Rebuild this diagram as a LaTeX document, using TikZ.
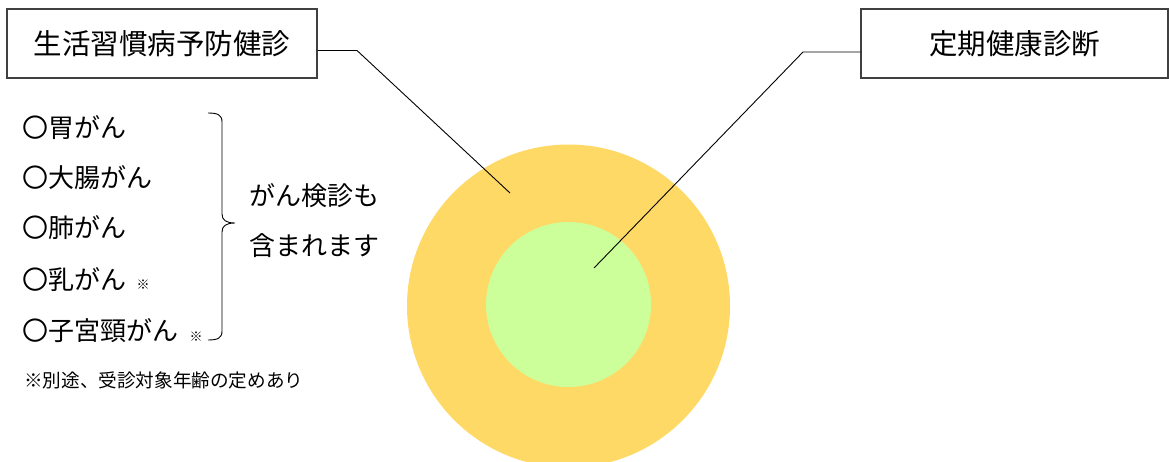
\documentclass[tikz,border=0pt]{standalone}
\usepackage{fontspec}
\newfontfamily\jp{Noto Sans CJK JP}
\definecolor{outerc}{HTML}{FFD966}
\definecolor{innerc}{HTML}{CCFF99}
\tikzset{
  labelbox/.style={draw=black!75, line width=1.1pt, inner sep=0pt, font=\jp\fontsize{28.5}{34}\selectfont},
  leader/.style={draw=black, line width=0.9pt},
  listtext/.style={anchor=base west, inner sep=0pt, font=\jp\fontsize{26}{30}\selectfont},
  smallmark/.style={inner sep=0pt, font=\jp\fontsize{13}{15}\selectfont},
  notetext/.style={anchor=base west, inner sep=0pt, font=\jp\fontsize{18.6}{22}\selectfont},
}
\begin{document}
\begin{tikzpicture}[x=1pt,y=-1pt]
\useasboundingbox (0,0) rectangle (1169,462);
\clip (0,0) rectangle (1169,462);
% circles
\node[circle, fill=outerc, minimum size=323pt, inner sep=0pt] (outer) at (568.5,306) {};
\node[circle, fill=innerc, minimum size=165pt, inner sep=0pt] (inner) at (568.5,304.5) {};
% boxes
\node[labelbox, minimum width=310pt, minimum height=69pt] (b1) at (162,43.5) {生活習慣病予防健診};
\node[labelbox, minimum width=307pt, minimum height=69pt] (b2) at (1014.5,43.5) {定期健康診断};
% leaders
\coordinate (k1) at (357,50.5);
\coordinate (c1) at (510,193);
\coordinate (k2) at (803,52);
\coordinate (c2) at (594,268);
\draw[leader] (b1.east |- k1) -- (k1) -- (c1);
\draw[leader] (b2.west |- k2) -- (k2) -- (c2);
% list
\node[listtext] (l1) at (22,138) {〇胃がん};
\node[listtext] (l2) at (22,188) {〇大腸がん};
\node[listtext] (l3) at (22,238) {〇肺がん};
\node[listtext] (l4) at (22,289) {〇乳がん};
\node[listtext] (l5) at (22,340) {〇子宮頸がん};
\node[smallmark] (m4) at (143,285) {※};
\node[smallmark] (m5) at (196,337) {※};
% brace
\draw[line width=0.9pt] (208,113) .. controls (218,113) and (222,115) .. (222,122) -- (222,214) .. controls (222,220) and (226,223) .. (235,223) .. controls (226,223) and (222,226) .. (222,232) -- (222,331) .. controls (222,338) and (218,340) .. (208,340);
\node[listtext] (t1) at (249,206) {がん検診も};
\node[listtext] (t2) at (249,256) {含まれます};
% note
\node[notetext] (note) at (24,387.5) {※別途、受診対象年齢の定めあり};
\end{tikzpicture}
\end{document}
